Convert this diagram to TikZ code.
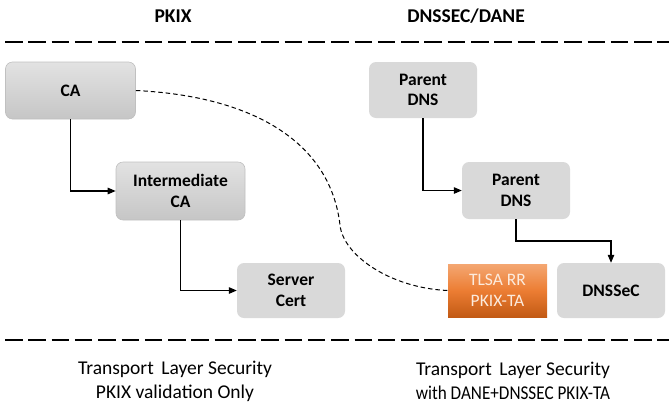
\documentclass[tikz,border=0pt]{standalone}
\usepackage{fontspec}
\setmainfont{Carlito}
\usetikzlibrary{arrows.meta}
\definecolor{boxgray}{HTML}{D9D9D9}
\definecolor{boxtop}{HTML}{E2E2E2}
\definecolor{boxbot}{HTML}{C6C6C6}
\definecolor{boxline}{HTML}{C0C0C0}
\definecolor{orgtop}{HTML}{F4A772}
\definecolor{orgmid}{HTML}{EC7D33}
\definecolor{orgbot}{HTML}{C25A14}
\definecolor{orgtext}{HTML}{FCEBDD}
\begin{document}
\begin{tikzpicture}[x=1pt,y=-1pt,
  every node/.style={inner sep=0pt,align=center},
  flatbox/.style={fill=boxgray,rounded corners=7pt,font=\fontsize{17.5}{20.5}\selectfont\bfseries},
  shadebox/.style={top color=boxtop,bottom color=boxbot,draw=boxline,line width=0.6pt,
    rounded corners=7pt,font=\fontsize{17.5}{20.5}\selectfont\bfseries},
  tlsabox/.style={top color=orgtop,bottom color=orgbot,middle color=orgmid,
    text=orgtext,font=\fontsize{17.5}{20.5}\selectfont},
  header/.style={font=\fontsize{19.5}{22}\selectfont\bfseries},
  caption/.style={font=\fontsize{19.5}{24}\selectfont},
  sepline/.style={line width=2.4pt,dash pattern=on 17.5pt off 5.8pt},
  link/.style={line width=1.1pt,-{Triangle[length=8pt,width=6.5pt]}},
  trust/.style={line width=1pt,dash pattern=on 4.5pt off 3pt}]
\useasboundingbox (0,0) rectangle (669,408);

% column headings and separators
\node[header] (hpkix) at (173,16) {PKIX};
\node[header] (hdane) at (466,16) {DNSSEC/DANE};
\draw[sepline] (5,42) -- (669,42);
\draw[sepline] (5,340) -- (669,340);

% PKIX certificate chain
\node[shadebox,minimum width=130pt,minimum height=57pt] (ca) at (70.5,90.5) {CA};
\node[shadebox,minimum width=129pt,minimum height=58pt] (ica) at (180.5,191) {Intermediate\\CA};
\node[flatbox,minimum width=108pt,minimum height=55pt] (srv) at (291,290.5) {Server\\Cert};

% DNSSEC chain
\node[flatbox,minimum width=108pt,minimum height=56pt] (pd1) at (423,90) {Parent\\DNS};
\node[flatbox,minimum width=108pt,minimum height=57pt] (pd2) at (516,190.5) {Parent\\DNS};
\node[flatbox,minimum width=108pt,minimum height=55pt] (dsec) at (611,290.5) {DNSSeC};
\node[tlsabox,minimum width=99pt,minimum height=53pt] (tlsa) at (497.5,290.5) {TLSA RR\\PKIX-TA};

% chain links
\draw[link] (ca.south) |- (ica.west);
\draw[link] (ica.south) |- (srv.west);
\draw[link] (pd1.south) |- (pd2.west);
\coordinate (bend) at (516,241);
\draw[link] (pd2.south) -- (bend) -| (dsec.north);

% trust anchor pinned in the TLSA record
\coordinate (mid) at (340,225);
\draw[trust] (ca.east) .. controls (250,96) and (330,140) .. (mid)
  .. controls (343,255) and (390,288) .. (tlsa.west);

% captions
\node[caption] (cap1) at (175,381) {Transport\, Layer Security\\PKIX validation Only};
\node[caption] (cap2) at (513,381) {Transport\, Layer Security\\\scalebox{0.88}[1]{with DANE+DNSSEC PKIX-TA}};
\end{tikzpicture}
\end{document}
